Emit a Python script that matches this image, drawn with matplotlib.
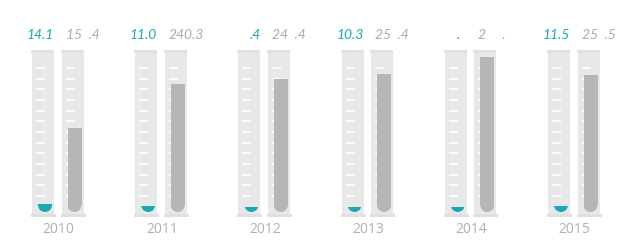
import numpy as np
import matplotlib
matplotlib.use("Agg")
import matplotlib.pyplot as plt
from matplotlib.patches import Rectangle, Ellipse

# ---------------------------------------------------------------
# data
# ---------------------------------------------------------------
years = ["2010", "2011", "2012", "2013", "2014", "2015"]
teal_values = [14.1, 11.0, 9.4, 10.3, 8.8, 11.5]
gray_values = [157.4, 240.3, 249.4, 259.4, 290.8, 257.5]
teal_labels = ["14.1", "11.0", ".4", "10.3", ".  ", "11.5"]
gray_labels = ["15  .4", "240.3", "24  .4", "25  .4", "2     .", "25  .5"]

TEAL = "#17a9b6"
GRAY_FILL = "#b6b6b6"
TUBE = "#e8e8e8"
TUBE_EDGE = "#e0e0e0"
TEXT_GRAY = "#ababab"

# ---------------------------------------------------------------
# scales: pixel sizes turned into data units
# ---------------------------------------------------------------
GROUP_PX = 103.2        # pixels between groups
VAL_PX = 0.533          # pixels per value unit
px_x = 1 / GROUP_PX
px_y = 1 / VAL_PX

fig = plt.figure(figsize=(6.2, 2.5), dpi=100)
ax = fig.add_axes([0, 0, 1, 1])
ax.set_xlim(-57.75 * px_x, (620 - 57.75) * px_x)
ax.set_ylim((212 - 250) * px_y, 212 * px_y)
ax.axis("off")

tube_w = 22 * px_x
liq_w = 14 * px_x
r_y = 7 * px_y
tube_bot = -3 * px_y
tube_top = 162 * px_y
tick_vals = np.arange(30, 271, 20)


def draw_tube(xc, value, color):
    # glass
    ax.add_patch(Rectangle((xc - tube_w / 2, tube_bot), tube_w,
                           tube_top - tube_bot, color=TUBE, lw=0, zorder=1))
    ax.add_patch(Rectangle((xc - tube_w / 2 - 1 * px_x, tube_top - 3 * px_y),
                           tube_w + 1 * px_x, 3 * px_y, color=TUBE_EDGE, lw=0, zorder=1))
    ax.add_patch(Rectangle((xc - tube_w / 2 - 1 * px_x, tube_bot - 1.5 * px_y),
                           tube_w + 3 * px_x, 3 * px_y, color=TUBE_EDGE, lw=0, zorder=1))
    # scale marks
    x0 = xc - tube_w / 2 + 4 * px_x
    ax.hlines(tick_vals, x0, x0 + 9 * px_x, color="white", lw=1.2, zorder=2)
    # liquid with a rounded bottom
    lx = xc + 2 * px_x
    if value > r_y:
        ax.add_patch(Rectangle((lx - liq_w / 2, r_y), liq_w, value - r_y,
                               color=color, lw=0, zorder=3))
    clip = Rectangle((lx - liq_w / 2, 0), liq_w, value, transform=ax.transData)
    bulb = Ellipse((lx, r_y), liq_w, 2 * r_y, color=color, lw=0, zorder=3)
    ax.add_patch(bulb)
    bulb.set_clip_path(clip)


for i, year in enumerate(years):
    x1 = i - 14.75 * px_x
    x2 = i + 14.75 * px_x
    draw_tube(x1, teal_values[i], TEAL)
    draw_tube(x2, gray_values[i], GRAY_FILL)

    ax.text(x1 + tube_w / 2, 173 * px_y, teal_labels[i], color=TEAL,
            ha="right", va="baseline", fontsize=10, style="italic",
            family="Lato")
    ax.text(x2 - tube_w / 2 + 4 * px_x, 173 * px_y, gray_labels[i], color=TEXT_GRAY,
            ha="left", va="baseline", fontsize=10, style="italic",
            family="Lato")
    ax.text(i + 1 * px_x, -21 * px_y, year, color="#b0b0b0",
            ha="center", va="baseline", fontsize=10, family="Open Sans")

fig.savefig("out.png", dpi=100)
